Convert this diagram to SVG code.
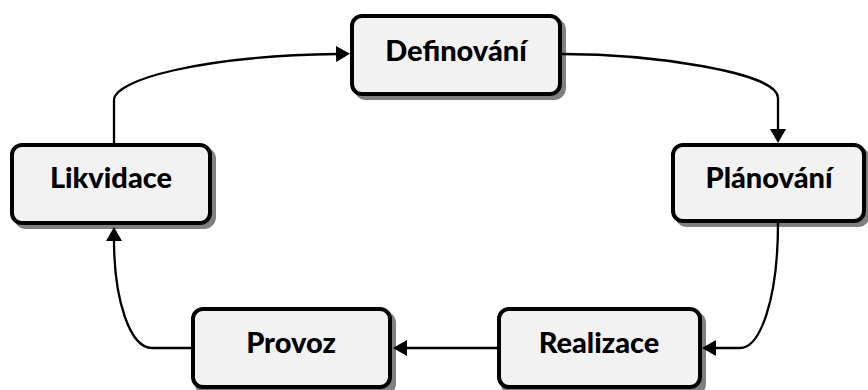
<svg xmlns="http://www.w3.org/2000/svg" width="868" height="390" viewBox="0 0 868 390">
<style>
.sh{fill:#808080;stroke:#808080;stroke-width:4}
.bx{fill:#f2f2f2;stroke:#000;stroke-width:4}
.lb{font-family:Lato,"Open Sans","Liberation Sans",sans-serif;font-weight:900;font-size:29px;fill:#000;text-anchor:middle}
.cn{fill:none;stroke:#000;stroke-width:2.3}
</style>
<defs>
<marker id="ah" viewBox="0 0 14 16" refX="1" refY="8" markerWidth="14" markerHeight="16" markerUnits="userSpaceOnUse" orient="auto">
<path d="M0,0 L14,8 L0,16 z" fill="#000"/>
</marker>
</defs>
<g id="definovani">
<rect class="sh" x="356" y="20" width="208" height="78" rx="10"/>
<rect class="bx" x="352" y="16" width="208" height="78" rx="10"/>
<text class="lb" x="456" y="61">Definování</text>
</g>
<g id="planovani">
<rect class="sh" x="677" y="149" width="191" height="76" rx="10"/>
<rect class="bx" x="673" y="145" width="191" height="76" rx="10"/>
<text class="lb" x="769" y="188">Plánování</text>
</g>
<g id="realizace">
<rect class="sh" x="503" y="313" width="201" height="81" rx="10"/>
<rect class="bx" x="499" y="309" width="201" height="78" rx="10"/>
<text class="lb" x="599" y="353">Realizace</text>
</g>
<g id="provoz">
<rect class="sh" x="197" y="313" width="197" height="81" rx="10"/>
<rect class="bx" x="193" y="309" width="197" height="78" rx="10"/>
<text class="lb" x="291" y="353">Provoz</text>
</g>
<g id="likvidace">
<rect class="sh" x="16" y="149" width="198" height="78" rx="10"/>
<rect class="bx" x="12" y="145" width="198" height="78" rx="10"/>
<text class="lb" x="111" y="188">Likvidace</text>
</g>
<g id="connectors">
<path class="cn" d="M114,143 L114,100 C114,80 200,56 337,54" marker-end="url(#ah)"/>
<path class="cn" d="M562,54 C650,54 778,72 778,98 L778,130" marker-end="url(#ah)"/>
<path class="cn" d="M778,223 C778,300 760,348 740,348 L715,348" marker-end="url(#ah)"/>
<path class="cn" d="M497,348 L406,348" marker-end="url(#ah)"/>
<path class="cn" d="M191,348 L152,348 C130,348 114,300 114,240" marker-end="url(#ah)"/>
</g>
</svg>
